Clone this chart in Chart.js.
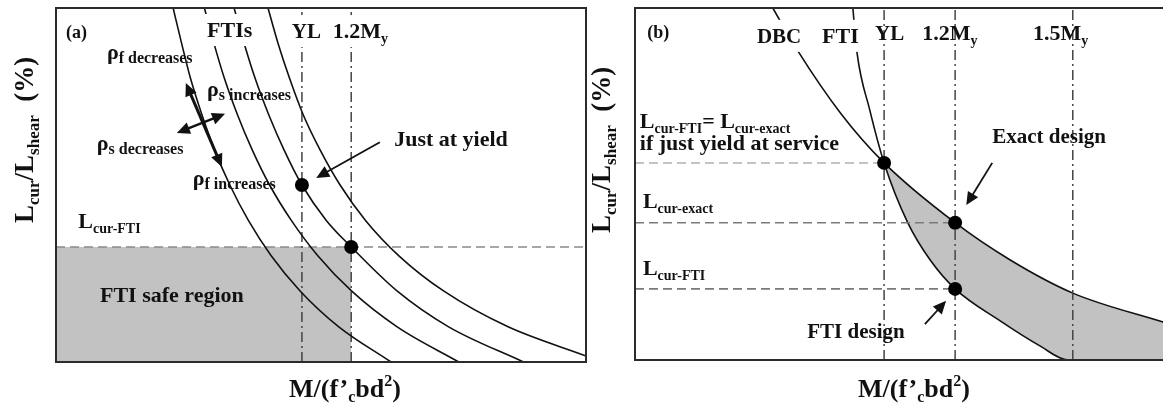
<!DOCTYPE html>
<html>
<head>
<meta charset="utf-8">
<script src="https://cdn.jsdelivr.net/npm/chart.js@4.4.0/dist/chart.umd.min.js"></script>
<style>
html, body { margin: 0; padding: 0; background: #fff; overflow: hidden; }
#wrap { position: relative; width: 1163px; height: 410px; overflow: hidden; background: #fff; }
#ca { position: absolute; left: 0; top: 0; }
#cb { position: absolute; left: 588px; top: 0; }
</style>
</head>
<body>
<div id="wrap">
  <canvas id="ca" width="600" height="410"></canvas>
  <canvas id="cb" width="580" height="410"></canvas>
</div>
<script>
// ---------- Panel (a): family of FTI curves ----------
const levelsA    = [100, 90, 80, 70, 60, 50, 40, 30, 20, 10, 0];
const fti1M      = [22.1, 23.7, 25.4, 27.5, 29.9, 32.8, 36.3, 40.6, 46.1, 53.3, 63.2];
const fti2M      = [28.0, 29.8, 31.8, 34.2, 37.0, 40.3, 44.4, 49.4, 55.8, 64.3, 76.0];
const fti3Levels = [100, 90, 80, 70, 60, 50, 40, 32.5, 20, 10, 0];
const fti3M      = [33.6, 35.5, 37.6, 40.1, 43.0, 46.4, 51.0, 55.7, 64.4, 74.0, 88.2];
const fti4Levels = [100, 90, 80, 70, 60, 50, 40, 30, 20, 10, 1.7];
const fti4M      = [40.0, 41.9, 44.1, 46.6, 49.8, 53.6, 58.4, 64.7, 73.2, 85.2, 100];
const refLinesA  = [46.4, 55.7];          // YL, 1.2My
const lcurFtiA   = 32.5;                  // L_cur-FTI level
const markerMA   = [46.4, 55.7];
const markerLA   = [50.0, 32.5];

// ---------- Panel (b): DBC and FTI curves ----------
const dbcM      = [26.0, 30.6, 38.9, 47.0, 60.4, 70.8, 82.6, 100];
const dbcL      = [100, 88.1, 69.9, 56.0, 39.0, 28.4, 19.0, 10.6];
const ftiM      = [41.1, 41.9, 44.3, 47.0, 51.5, 55.7, 60.4, 68.9, 76.4, 81.7, 100];
const ftiL      = [100, 87.2, 71.0, 56.0, 38.9, 28.4, 20.2, 11.1, 4.0, 0, 0];
const refLinesB = [47.0, 60.4, 82.6];     // YL, 1.2My, 1.5My
const levelLinesB = [56.0, 39.0, 20.2];   // L_cur-FTI=L_cur-exact, L_cur-exact, L_cur-FTI
const levelEndsB  = [47.0, 60.4, 60.4];
const markerMB  = [47.0, 60.4, 60.4];
const markerLB  = [56.0, 39.0, 20.2];

// ---------- styling ----------
const INK = '#111';
const SHADE = '#c2c2c2';
const FONT = '"Liberation Serif", "Times New Roman", serif';

const pts = (xs, ys) => xs.map((x, i) => ({ x, y: ys[i] }));

function curve(xs, ys, extra) {
  return Object.assign({
    data: pts(xs, ys), showLine: true, borderColor: INK, borderWidth: 1.6,
    pointRadius: 0, cubicInterpolationMode: 'monotone', fill: false
  }, extra || {});
}
function straight(data, color, width, dash) {
  return {
    data, showLine: true, borderColor: color, borderWidth: width,
    borderDash: dash, pointRadius: 0, fill: false, tension: 0
  };
}
function vline(x, dash) { return straight([{ x, y: 0 }, { x, y: 100 }], '#444', 1.5, dash); }
function markers(xs, ys) {
  return { data: pts(xs, ys), showLine: false, pointRadius: 7,
           pointBackgroundColor: '#000', pointBorderWidth: 0, pointHoverRadius: 7 };
}

// draws a run of text pieces: [text, size, baselineShift]
function rich(ctx, x, y, parts, align) {
  let w = 0;
  for (const p of parts) { ctx.font = `bold ${p[1]}px ${FONT}`; w += ctx.measureText(p[0]).width; }
  let cx = align === 'center' ? x - w / 2 : x;
  ctx.textBaseline = 'alphabetic';
  ctx.textAlign = 'left';
  for (const p of parts) {
    ctx.font = `bold ${p[1]}px ${FONT}`;
    ctx.fillText(p[0], cx, y + (p[2] || 0));
    cx += ctx.measureText(p[0]).width;
  }
  return w;
}

function head(ctx, x1, y1, x2, y2, len, half) {
  const a = Math.atan2(y2 - y1, x2 - x1);
  ctx.beginPath();
  ctx.moveTo(x2, y2);
  ctx.lineTo(x2 - len * Math.cos(a) + half * Math.sin(a), y2 - len * Math.sin(a) - half * Math.cos(a));
  ctx.lineTo(x2 - len * Math.cos(a) - half * Math.sin(a), y2 - len * Math.sin(a) + half * Math.cos(a));
  ctx.closePath();
  ctx.fill();
}
function arrow(ctx, x1, y1, x2, y2, lw, both) {
  const len = 13, half = 6;
  const a = Math.atan2(y2 - y1, x2 - x1);
  const sx = both ? x1 + (len - 2) * Math.cos(a) : x1, sy = both ? y1 + (len - 2) * Math.sin(a) : y1;
  const ex = x2 - (len - 2) * Math.cos(a), ey = y2 - (len - 2) * Math.sin(a);
  ctx.strokeStyle = INK; ctx.fillStyle = INK; ctx.lineWidth = lw; ctx.setLineDash([]);
  ctx.beginPath(); ctx.moveTo(sx, sy); ctx.lineTo(ex, ey); ctx.stroke();
  head(ctx, x1, y1, x2, y2, len, half);
  if (both) head(ctx, x2, y2, x1, y1, len, half);
}

const yTitle = [['L', 27], ['cur', 17, 6], ['/L', 27], ['shear', 17, 6], ['  (%)', 27]];
const xTitle = [['M/(f\u2019', 26], ['c', 16, 5], ['bd', 26], ['2', 16, -11], [')', 26]];

function annotator(cfg) {
  return {
    id: 'annot',
    afterDatasetsDraw(chart) {
      const ctx = chart.ctx, xs = chart.scales.x, ys = chart.scales.y, area = chart.chartArea;
      const px = v => xs.getPixelForValue(v), py = v => ys.getPixelForValue(v);
      ctx.save();
      // white boxes behind labels that sit on top of curves
      for (const l of cfg.labels) {
        if (!l.box) continue;
        let w = 0;
        for (const p of l.parts) { ctx.font = `bold ${p[1]}px ${FONT}`; w += ctx.measureText(p[0]).width; }
        ctx.fillStyle = '#fff';
        ctx.fillRect(px(l.at[0]) - 5, py(l.at[1]) - 23, w + 10, 32);
      }
      ctx.fillStyle = INK;
      for (const l of cfg.labels) rich(ctx, px(l.at[0]), py(l.at[1]), l.parts);
      for (const a of cfg.arrows) arrow(ctx, px(a.from[0]), py(a.from[1]), px(a.to[0]), py(a.to[1]), a.lw, a.both);
      // frame
      ctx.setLineDash([]);
      ctx.strokeStyle = '#2b2b2b'; ctx.lineWidth = 2;
      ctx.strokeRect(area.left, area.top, area.right - area.left, area.bottom - area.top);
      // axis titles
      ctx.fillStyle = INK;
      rich(ctx, cfg.xTitle[0], cfg.xTitle[1], xTitle, 'center');
      ctx.translate(cfg.yTitle[0], cfg.yTitle[1]);
      ctx.rotate(-Math.PI / 2);
      rich(ctx, 0, 0, yTitle);
      ctx.restore();
    }
  };
}

const baseOptions = (padding) => ({
  responsive: false, animation: false, events: [],
  layout: { padding, autoPadding: false },
  plugins: { legend: { display: false }, tooltip: { enabled: false } },
  scales: {
    x: { type: 'linear', min: 0, max: 100, display: false },
    y: { type: 'linear', min: 0, max: 100, display: false }
  }
});

const dashDot = [10, 4, 2, 4];

// ---------- chart (a) ----------
new Chart(document.getElementById('ca'), {
  type: 'scatter',
  data: {
    datasets: [
      markers(markerMA, markerLA),
      curve(fti1M, levelsA),
      curve(fti2M, levelsA),
      curve(fti3M, fti3Levels),
      curve(fti4M, fti4Levels),
      vline(refLinesA[0], dashDot),
      vline(refLinesA[1], dashDot),
      straight([{ x: 0, y: lcurFtiA }, { x: 100, y: lcurFtiA }], '#8a8a8a', 1.6, [9, 5]),
      { data: [{ x: 0, y: lcurFtiA }, { x: refLinesA[1], y: lcurFtiA }], showLine: true,
        borderWidth: 0, pointRadius: 0, fill: 'origin', backgroundColor: SHADE }
    ]
  },
  options: baseOptions({ left: 56, right: 14, top: 8, bottom: 48 }),
  plugins: [annotator({
    labels: [
      { at: [1.9, 91.5], parts: [['(a)', 18]] },
      { at: [28.5, 91.8], parts: [['FTIs', 22]], box: true },
      { at: [44.5, 91.5], parts: [['YL', 21]], box: true },
      { at: [52.2, 91.5], parts: [['1.2M', 22], ['y', 14, 5]], box: true },
      { at: [9.6, 85.6], parts: [['\u03C1', 22], ['f decreases', 16, 4]] },
      { at: [28.5, 75.1], parts: [['\u03C1', 22], ['s increases', 16, 4]] },
      { at: [7.7, 59.9], parts: [['\u03C1', 22], ['s decreases', 16, 4]] },
      { at: [25.8, 50.0], parts: [['\u03C1', 22], ['f increases', 16, 4]] },
      { at: [63.8, 61.0], parts: [['Just at yield', 22]] },
      { at: [4.2, 37.9], parts: [['L', 22], ['cur-FTI', 14, 5]] },
      { at: [8.3, 16.9], parts: [['FTI safe region', 22]] }
    ],
    arrows: [
      { from: [61.1, 62.1], to: [49.1, 52.0], lw: 1.8 },
      { from: [24.5, 78.8], to: [31.3, 55.1], lw: 3, both: true },
      { from: [22.8, 64.7], to: [31.9, 70.1], lw: 2.5, both: true }
    ],
    xTitle: [345, 397],
    yTitle: [33, 223]
  })]
});

// ---------- chart (b) ----------
new Chart(document.getElementById('cb'), {
  type: 'scatter',
  data: {
    datasets: [
      markers(markerMB, markerLB),
      vline(refLinesB[0], dashDot),
      vline(refLinesB[1], dashDot),
      vline(refLinesB[2], dashDot),
      straight([{ x: 0, y: levelLinesB[0] }, { x: levelEndsB[0], y: levelLinesB[0] }], '#b0b0b0', 1.5, [9, 5]),
      straight([{ x: 0, y: levelLinesB[1] }, { x: levelEndsB[1], y: levelLinesB[1] }], '#7a7a7a', 1.6, [9, 5]),
      straight([{ x: 0, y: levelLinesB[2] }, { x: levelEndsB[2], y: levelLinesB[2] }], '#7a7a7a', 1.6, [9, 5]),
      curve(ftiM, ftiL),
      curve(dbcM, dbcL, { fill: { target: 7, above: SHADE, below: 'rgba(0,0,0,0)' } })
    ]
  },
  options: baseOptions({ left: 47, right: 3, top: 8, bottom: 50 }),
  plugins: [annotator({
    labels: [
      { at: [2.3, 91.5], parts: [['(b)', 18]] },
      { at: [23.0, 90.1], parts: [['DBC', 21]], box: true },
      { at: [35.3, 90.1], parts: [['FTI', 22]], box: true },
      { at: [45.3, 90.9], parts: [['YL', 21]] },
      { at: [54.2, 90.9], parts: [['1.2M', 22], ['y', 14, 5]] },
      { at: [75.1, 90.9], parts: [['1.5M', 22], ['y', 14, 5]] },
      { at: [0.9, 65.9], parts: [['L', 22], ['cur-FTI', 14, 5], ['= L', 22], ['cur-exact', 14, 5]] },
      { at: [0.9, 59.7], parts: [['if just yield at service', 22]] },
      { at: [1.5, 43.2], parts: [['L', 22], ['cur-exact', 14, 5]] },
      { at: [1.5, 24.1], parts: [['L', 22], ['cur-FTI', 14, 5]] },
      { at: [67.4, 61.6], parts: [['Exact design', 21]] },
      { at: [32.5, 6.3], parts: [['FTI design', 21]] }
    ],
    arrows: [
      { from: [67.4, 56.0], to: [62.5, 44.0], lw: 1.8 },
      { from: [54.7, 10.2], to: [58.7, 16.8], lw: 1.8 }
    ],
    xTitle: [326, 397],
    yTitle: [22, 233]
  })]
});
</script>
</body>
</html>
